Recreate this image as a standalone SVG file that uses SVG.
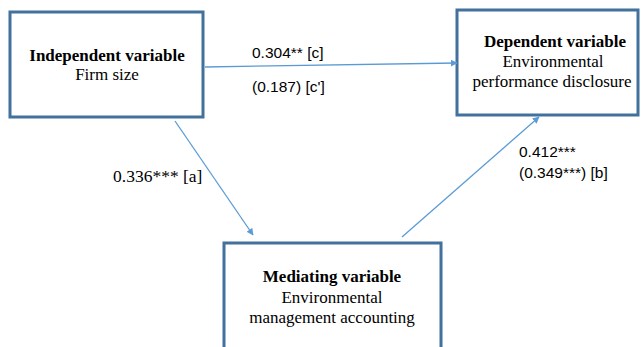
<svg xmlns="http://www.w3.org/2000/svg" width="643" height="347" viewBox="0 0 643 347">
<style>
.box{fill:#fff;stroke:#41719C;stroke-width:3}
.t{font-family:'Liberation Serif','Times New Roman','DejaVu Serif',serif;font-size:17px;fill:#000;text-anchor:middle}
.b{font-weight:bold}
.lab{font-family:'Liberation Sans',Arial,sans-serif;font-size:15.5px;fill:#000}
.labs{font-family:'Liberation Serif','Times New Roman','DejaVu Serif',serif;font-size:17.5px;fill:#000}
.con{stroke:#5B9BD5;stroke-width:1.3;fill:none;marker-end:url(#ah)}
</style>
<defs>
<marker id="ah" viewBox="0 0 10 10" refX="9" refY="5" markerWidth="7" markerHeight="7" markerUnits="userSpaceOnUse" orient="auto">
<path d="M0,0 L10,5 L0,10 z" fill="#5B9BD5"/>
</marker>
</defs>
<g id="independent">
<rect class="box" x="10" y="12" width="193" height="105"/>
<text class="t b" x="107" y="61">Independent variable</text>
<text class="t" x="107" y="80">Firm size</text>
</g>
<g id="dependent">
<rect class="box" x="457" y="10" width="181" height="105"/>
<text class="t b" x="555" y="47">Dependent variable</text>
<text class="t" x="553" y="67">Environmental</text>
<text class="t" x="552" y="87">performance disclosure</text>
</g>
<g id="mediating">
<rect class="box" x="224" y="243" width="217" height="110"/>
<text class="t b" x="332" y="282">Mediating variable</text>
<text class="t" x="332" y="303">Environmental</text>
<text class="t" x="332" y="323">management accounting</text>
</g>
<g id="connectors">
<line class="con" x1="205" y1="67" x2="457" y2="63"/>
<line class="con" x1="175" y1="121" x2="253" y2="235"/>
<line class="con" x1="402" y1="237" x2="539" y2="117"/>
</g>
<g id="labels">
<text class="lab" x="252" y="58">0.304** [c]</text>
<text class="lab" x="252" y="92">(0.187) [c']</text>
<text class="labs" x="113" y="182">0.336*** [a]</text>
<text class="lab" x="519" y="157">0.412***</text>
<text class="lab" x="519" y="178">(0.349***) [b]</text>
</g>
</svg>
